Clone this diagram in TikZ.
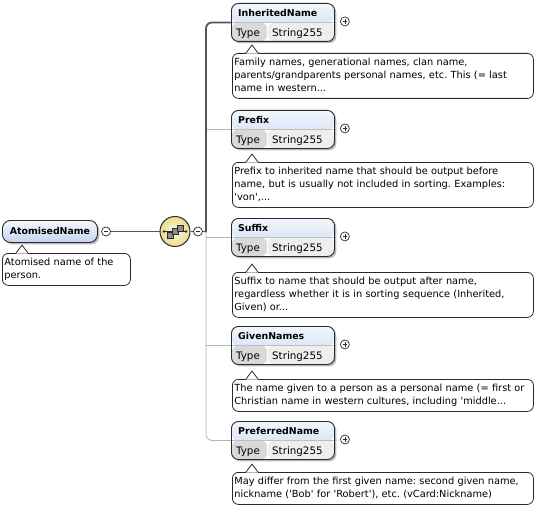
\documentclass[tikz,border=0pt]{standalone}
\usepackage{fontspec}
\setmainfont{DejaVu Sans}
\usetikzlibrary{shadows,calc}
\frenchspacing
\definecolor{hdrtop}{HTML}{F3F7FD}
\definecolor{hdrbot}{HTML}{C4D5EF}
\definecolor{typegray}{HTML}{D9D9D9}
\definecolor{strgray}{HTML}{EEEEEE}
\definecolor{bord}{HTML}{2A2A2A}
\definecolor{darkln}{HTML}{555555}
\definecolor{lightln}{HTML}{B4B4B4}
\definecolor{seqin}{HTML}{FDFADC}
\definecolor{seqout}{HTML}{EADB8F}
\definecolor{sqfill}{HTML}{8E8E8E}
\tikzset{
  x=1pt, y=-1pt,
  boxshadow/.style={drop shadow={shadow xshift=1.8pt, shadow yshift=-1.8pt, fill=black!50, opacity=0.55}},
  elembox/.style={draw=bord, line width=0.9pt, rounded corners=7pt, minimum width=103pt,
    minimum height=38pt, inner sep=0pt, anchor=north west, fill=white, boxshadow,
    path picture={
      \shade[top color=hdrtop, bottom color=hdrbot] (path picture bounding box.north west) rectangle (path picture bounding box.east);
      \fill[typegray] (path picture bounding box.west) rectangle ([xshift=36pt]path picture bounding box.south west);
      \fill[strgray] ([xshift=36pt]path picture bounding box.south west) rectangle (path picture bounding box.east);
      \draw[white, line width=0.7pt] ([xshift=36pt]path picture bounding box.south west) -- ([xshift=36pt]path picture bounding box.west);
      \draw[black!25, line width=0.5pt] (path picture bounding box.west) -- (path picture bounding box.east);
    }},
  rootbox/.style={draw=bord, line width=0.9pt, rounded corners=8pt, minimum width=95pt,
    minimum height=22pt, inner sep=0pt, anchor=north west, top color=hdrtop, bottom color=hdrbot,
    boxshadow, font=\fontsize{9.4}{11}\selectfont\bfseries},
  titletxt/.style={font=\fontsize{9.4}{11}\selectfont\bfseries, inner sep=0pt, anchor=base west},
  typetxt/.style={font=\fontsize{10.3}{12}\selectfont, inner sep=0pt, anchor=base west},
  docnode/.style={draw=bord, line width=0.8pt, fill=white, rounded corners=6pt, inner xsep=2pt,
    inner ysep=3pt, align=left, anchor=north west, font=\fontsize{9.8}{13}\selectfont},
  minusnode/.style={circle, draw=bord, fill=white, minimum size=9pt, inner sep=0pt, line width=0.7pt,
    path picture={\draw[line width=0.8pt] ([xshift=-2.4pt]path picture bounding box.center) -- ([xshift=2.4pt]path picture bounding box.center);}},
  plusnode/.style={circle, draw=bord, fill=white, minimum size=9pt, inner sep=0pt, line width=0.7pt,
    path picture={\draw[line width=0.8pt] ([xshift=-2.4pt]path picture bounding box.center) -- ([xshift=2.4pt]path picture bounding box.center)
      ([yshift=-2.4pt]path picture bounding box.center) -- ([yshift=2.4pt]path picture bounding box.center);}},
  seqnode/.style={circle, draw=bord, line width=1pt, minimum size=30pt, inner sep=0pt,
    inner color=seqin, outer color=seqout},
  dline/.style={draw=darkln, line width=1.8pt},
  gline/.style={draw=lightln, line width=0.9pt},
  sqbox/.style={fill=sqfill, draw=bord, line width=0.5pt},
}
\newcommand\sq{\textquotesingle}
\newcommand\elem[4]{%
  \node[elembox] (#1) at (#2,#3) {};
  \node[titletxt] (#1t) at ([xshift=7pt,yshift=-13.3pt]#1.north west) {#4};
  \node[typetxt] (#1ty) at ([xshift=5pt,yshift=5.6pt]#1.south west) {Type};
  \node[typetxt] (#1st) at ([xshift=41pt,yshift=5.6pt]#1.south west) {String255};
  \node[plusnode] (#1p) at ([xshift=10pt,yshift=1pt]#1.east) {};
}
\newcommand\docnote[5]{%
  \node[docnode, text width=#4] (#1) at (#2,#3) {\strut#5\strut};
  \fill[white] ([xshift=14pt,yshift=-0.6pt]#1.north west) -- ++(6pt,8.6pt) -- ++(6pt,-8.6pt) -- cycle;
  \draw[draw=bord, line width=0.8pt, line join=round] ([xshift=14pt]#1.north west) -- ++(6pt,8pt) -- ++(6pt,-8pt);
}
\begin{document}
\begin{tikzpicture}
\useasboundingbox (0,0) rectangle (556,508);
% root
\node[rootbox] (root) at (2,220) {AtomisedName};
\node[minusnode] (am) at (106,231.5) {};
\docnote{rootdoc}{2}{253}{124pt}{Atomised name of the\\person.}
% sequence
\node[seqnode] (seq) at (175,231.5) {};
\begin{scope}[shift={(seq.center)}]
  \draw[bord, line width=0.8pt] (-11,0) -- (11,0);
  \fill[bord] (-11,0) circle (1.3) (11,0) circle (1.3);
  \draw[sqbox] (-8,0.5) rectangle (-2,6.5);
  \draw[sqbox] (-3,-3) rectangle (3,3);
  \draw[sqbox] (2,-6.5) rectangle (8,-0.5);
\end{scope}
\node[minusnode] (sm) at (198,231.5) {};
\coordinate (spine) at (206,231.5);
% elements
\elem{e1}{231}{3}{InheritedName}
\elem{e2}{231}{110}{Prefix}
\elem{e3}{231}{218}{Suffix}
\elem{e4}{231}{326}{GivenNames}
\elem{e5}{231}{421}{PreferredName}
% docs
\docnote{d1}{232}{53}{297pt}{Family names, generational names, clan name,\\parents/grandparents personal names, etc. This (= last\\name in western...}
\docnote{d2}{232}{162}{297pt}{Prefix to inherited name that should be output before\\name, but is usually not included in sorting. Examples:\\\sq von\sq,...}
\docnote{d3}{232}{272}{297pt}{Suffix to name that should be output after name,\\regardless whether it is in sorting sequence (Inherited,\\Given) or...}
\docnote{d4}{232}{379}{297pt}{The name given to a person as a personal name (= first or\\Christian name in western cultures, including \sq middle...}
\docnote{d5}{232}{472}{297pt}{May differ from the first given name: second given name,\\nickname (\sq Bob\sq{} for \sq Robert\sq), etc. (vCard:Nickname)}
% connectors
\draw[gline, rounded corners=6pt] (spine) |- (e5.west);
\draw[gline] (spine |- e2.west) -- (e2.west);
\draw[gline] (spine |- e3.west) -- (e3.west);
\draw[gline] (spine |- e4.west) -- (e4.west);
\draw[dline] (am.east) -- (seq.west);
\draw[dline] (seq.east) -- (sm.west);
\draw[dline] (sm.east) -- ([xshift=0.9pt]spine);
\draw[dline, rounded corners=6pt] ([yshift=-0.9pt]spine) |- (e1.west);
\end{tikzpicture}
\end{document}
